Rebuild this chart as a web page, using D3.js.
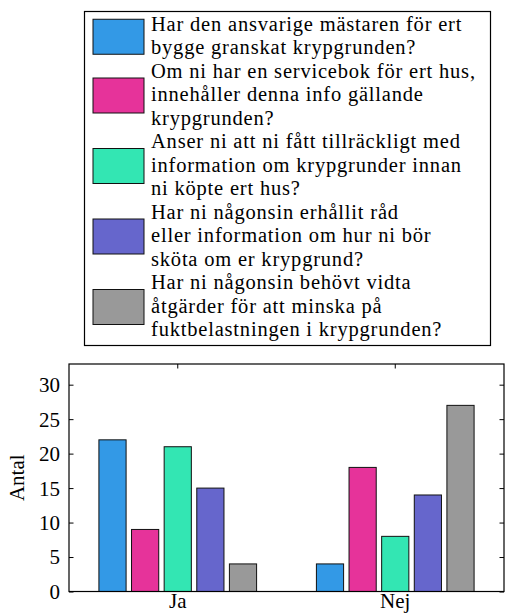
<!DOCTYPE html>
<html>
<head>
<meta charset="utf-8">
<script src="https://cdn.jsdelivr.net/npm/d3@7"></script>
<style>
  body { margin: 0; background: #fff; }
</style>
</head>
<body>
<div id="chart"></div>
<script>
// answers on x, one bar per question
var categories = ["Ja", "Nej"];
var questions = [
  ["Har den ansvarige mästaren för ert", "bygge granskat krypgrunden?"],
  ["Om ni har en servicebok för ert hus,", "innehåller denna info gällande", "krypgrunden?"],
  ["Anser ni att ni fått tillräckligt med", "information om krypgrunder innan", "ni köpte ert hus?"],
  ["Har ni någonsin erhållit råd", "eller information om hur ni bör", "sköta om er krypgrund?"],
  ["Har ni någonsin behövt vidta", "åtgärder för att minska på", "fuktbelastningen i krypgrunden?"]
];
var colors = ["#3399e6", "#e6339a", "#33e6b3", "#6666cc", "#999999"];
var jaValues = [22, 9, 21, 15, 4];
var nejValues = [4, 18, 8, 14, 27];
var yTicks = [0, 5, 10, 15, 20, 25, 30];
var yLabel = "Antal";

var serif = "'Liberation Serif', 'Times New Roman', serif";
var width = 505, height = 613;
var plot = { left: 69, right: 504, top: 364, bottom: 591.5 };

var svg = d3.select("#chart").append("svg")
  .attr("width", width)
  .attr("height", height);

// SCALES
var xScale = d3.scaleBand()
  .domain(categories)
  .range([plot.left, plot.right]);

var groupHalf = xScale.bandwidth() * 0.375;
var xInner = d3.scaleBand()
  .domain(d3.range(questions.length))
  .range([-groupHalf, groupHalf])
  .paddingInner(1 / 6)
  .paddingOuter(1 / 12);

var yScale = d3.scaleLinear()
  .domain([0, 33])
  .range([plot.bottom, plot.top]);

// AXES (ticks inside the box)
var tickLen = 4.5;
svg.append("g")
  .attr("transform", `translate(${plot.left},0)`)
  .call(d3.axisLeft(yScale).tickValues(yTicks).tickSizeInner(-tickLen).tickSizeOuter(0).tickPadding(9))
  .call(g => g.select(".domain").remove())
  .call(g => g.selectAll("text")
    .style("font-family", serif).style("font-size", "21px").attr("dy", "0.33em"));

svg.append("g")
  .attr("transform", `translate(${plot.right},0)`)
  .call(d3.axisRight(yScale).tickValues(yTicks).tickSizeInner(-tickLen).tickSizeOuter(0).tickFormat(""))
  .call(g => g.select(".domain").remove());

svg.append("g")
  .attr("transform", `translate(0,${plot.top})`)
  .call(d3.axisTop(xScale).tickSizeInner(-tickLen).tickSizeOuter(0).tickFormat(""))
  .call(g => g.select(".domain").remove());

svg.append("g")
  .attr("transform", `translate(0,${plot.bottom})`)
  .call(d3.axisBottom(xScale).tickSizeInner(-tickLen).tickSizeOuter(0).tickPadding(0))
  .call(g => g.select(".domain").remove())
  .call(g => g.selectAll("text")
    .style("font-family", serif).style("font-size", "21px").attr("dy", "0.78em"));

// BARS
var seriesData = questions.map(function(q, i) {
  return { index: i, color: colors[i], values: [jaValues[i], nejValues[i]] };
});

var seriesGroups = svg.selectAll(".series")
  .data(seriesData)
  .enter()
  .append("g")
  .attr("class", "series");

seriesGroups.selectAll("rect")
  .data(d => d.values.map((v, j) => ({ cat: categories[j], value: v, index: d.index, color: d.color })))
  .enter()
  .append("rect")
  .attr("x", d => xScale(d.cat) + xScale.bandwidth() / 2 + xInner(d.index))
  .attr("width", xInner.bandwidth())
  .attr("y", d => yScale(d.value))
  .attr("height", d => yScale(0) - yScale(d.value))
  .attr("fill", d => d.color)
  .attr("stroke", "#111")
  .attr("stroke-width", 1);

// BOX
svg.append("rect")
  .attr("x", plot.left)
  .attr("y", plot.top)
  .attr("width", plot.right - plot.left)
  .attr("height", plot.bottom - plot.top)
  .attr("fill", "none")
  .attr("stroke", "#000")
  .attr("stroke-width", 1.2);

// Y label
svg.append("text")
  .attr("transform", `translate(24,${(plot.top + plot.bottom) / 2}) rotate(-90)`)
  .attr("text-anchor", "middle")
  .style("font-family", serif)
  .style("font-size", "21px")
  .text(yLabel);

// LEGEND
var legend = svg.append("g");
legend.append("rect")
  .attr("x", 84.5)
  .attr("y", 11.5)
  .attr("width", 406)
  .attr("height", 334)
  .attr("fill", "#fff")
  .attr("stroke", "#000")
  .attr("stroke-width", 1.2);

var lineStep = 23.5;
var lineStart = 30.5;
var lineNo = 0;
questions.forEach(function(lines, i) {
  var first = lineNo;
  lines.forEach(function(line) {
    legend.append("text")
      .attr("x", 151)
      .attr("y", lineStart + lineNo * lineStep)
      .style("font-family", serif)
      .style("font-size", "20.5px")
      .style("letter-spacing", "0.8px")
      .text(line);
    lineNo++;
  });
  var mid = lineStart + (first + (lines.length - 1) / 2) * lineStep - 5.5;
  legend.append("rect")
    .attr("x", 93)
    .attr("y", mid - 17.5)
    .attr("width", 51)
    .attr("height", 35)
    .attr("fill", colors[i])
    .attr("stroke", "#111")
    .attr("stroke-width", 1);
});
</script>
</body>
</html>
